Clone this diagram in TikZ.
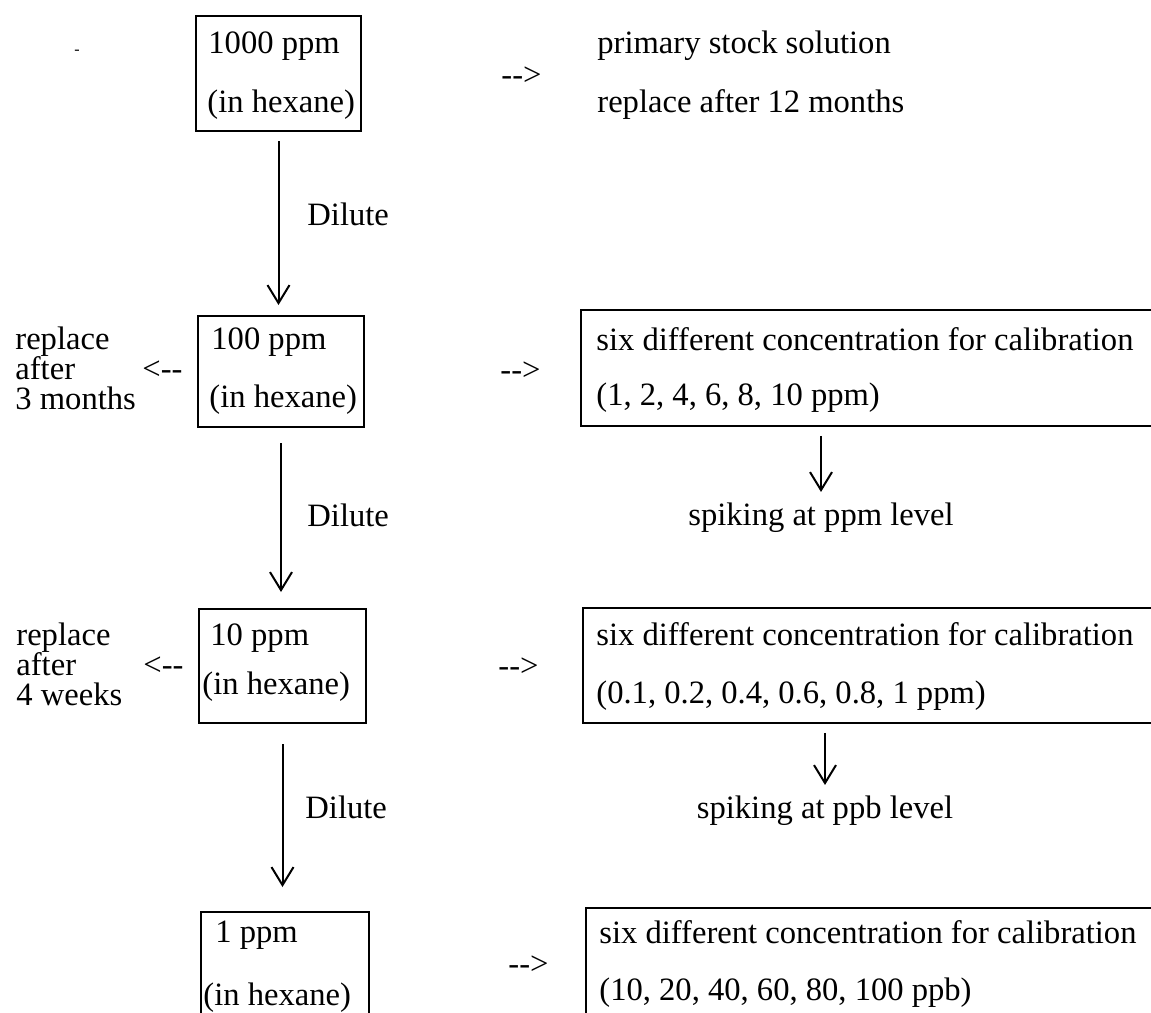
\documentclass[tikz,border=0pt]{standalone}
\usepackage{fontspec}
\setmainfont{Liberation Serif}
\usetikzlibrary{arrows.meta}
\begin{document}
\begin{tikzpicture}[x=0.5pt,y=-0.5pt,
  txt/.style={inner sep=0pt, anchor=base west, font=\fontsize{16.3}{19}\selectfont},
  ctxt/.style={inner sep=0pt, anchor=base, font=\fontsize{16.3}{19}\selectfont},
  boxline/.style={line width=1pt},
  frame/.style={draw, line width=1pt, inner sep=0pt, anchor=north west},
  hollow/.style={inner sep=0pt, anchor=north west},
  arr/.style={line width=1pt, -{Straight Barb[length=9pt,width=11pt]}},
]
\useasboundingbox (0,0) rectangle (1151,1012);

% stray mark
\node[inner sep=0pt, font=\fontsize{8}{8}\selectfont] (mark) at (77,52) {-};

% left column boxes
\node[frame, minimum width=82.5pt, minimum height=57.5pt] (b1) at (195,15) {};
\node[frame, minimum width=83pt, minimum height=55.5pt] (b2) at (197,315) {};
\node[frame, minimum width=83.5pt, minimum height=57pt] (b3) at (198,608) {};
\node[hollow, minimum width=83.5pt, minimum height=50pt] (b4) at (201,912) {};
\draw[boxline] (b4.south west) -- (b4.north west) -- (b4.north east) -- (b4.south east);

% right column boxes (open to the right)
\node[hollow, minimum width=285pt, minimum height=57.5pt] (r1) at (581,310) {};
\draw[boxline] (r1.north east) -- (r1.north west) -- (r1.south west) -- (r1.south east);
\node[hollow, minimum width=284pt, minimum height=57pt] (r2) at (583,608) {};
\draw[boxline] (r2.north east) -- (r2.north west) -- (r2.south west) -- (r2.south east);
\node[hollow, minimum width=282.5pt, minimum height=52pt] (r3) at (586,908) {};
\draw[boxline] (r3.north east) -- (r3.north west) -- (r3.south west);

% row 1
\node[txt] (t1a) at (208,53) {1000 ppm};
\node[txt] (t1b) at (207,112) {(in hexane)};
\node[txt] (d1) at (501,85) {-{}->};
\node[txt] (p1) at (597,53) {primary stock solution};
\node[txt] (p2) at (597,112) {replace after 12 months};

% row 2
\node[txt] (rp2a) at (15,349) {replace};
\node[txt] (rp2b) at (15,379) {after};
\node[txt] (rp2c) at (15,409) {3 months};
\node[txt] (l2) at (142,379) {<-{}-};
\node[txt] (t2a) at (211,349) {100 ppm};
\node[txt] (t2b) at (209,407) {(in hexane)};
\node[txt] (d2) at (500,380) {-{}->};
\node[txt] (r1a) at (596,350) {six different concentration for calibration};
\node[txt] (r1b) at (596,405) {(1, 2, 4, 6, 8, 10 ppm)};

% row 3
\node[txt] (rp3a) at (16,645) {replace};
\node[txt] (rp3b) at (16,675) {after};
\node[txt] (rp3c) at (16,705) {4 weeks};
\node[txt] (l3) at (143,675) {<-{}-};
\node[txt] (t3a) at (210,645) {10 ppm};
\node[txt] (t3b) at (202,694) {(in hexane)};
\node[txt] (d3) at (498,676) {-{}->};
\node[txt] (r2a) at (596,645) {six different concentration for calibration};
\node[txt] (r2b) at (596,703) {(0.1, 0.2, 0.4, 0.6, 0.8, 1 ppm)};

% row 4
\node[txt] (t4a) at (215,942) {1 ppm};
\node[txt] (t4b) at (203,1005) {(in hexane)};
\node[txt] (d4) at (508,974) {-{}->};
\node[txt] (r3a) at (599,943) {six different concentration for calibration};
\node[txt] (r3b) at (599,1000) {(10, 20, 40, 60, 80, 100 ppb)};

% dilute labels
\node[txt] (dl1) at (307,225) {Dilute};
\node[txt] (dl2) at (307,526) {Dilute};
\node[txt] (dl3) at (305,818) {Dilute};

% spiking labels
\node[ctxt] (s1) at (821,525) {spiking at ppm level};
\node[ctxt] (s2) at (825,818) {spiking at ppb level};

% vertical connectors
\draw[arr, shorten <=4.5pt, shorten >=5pt] (b1.south) -- (b1.south |- b2.north);
\draw[arr, shorten <=7.5pt, shorten >=8pt] (b2.south) -- (b2.south |- b3.north);
\draw[arr, shorten <=10pt, shorten >=12.5pt] (b3.south) -- (b3.south |- b4.north);
\draw[arr, shorten <=5pt, shorten >=5pt] (s1.north |- r1.south) -- (s1.north);
\draw[arr, shorten <=5pt, shorten >=5pt] (s2.north |- r2.south) -- (s2.north);
\end{tikzpicture}
\end{document}
